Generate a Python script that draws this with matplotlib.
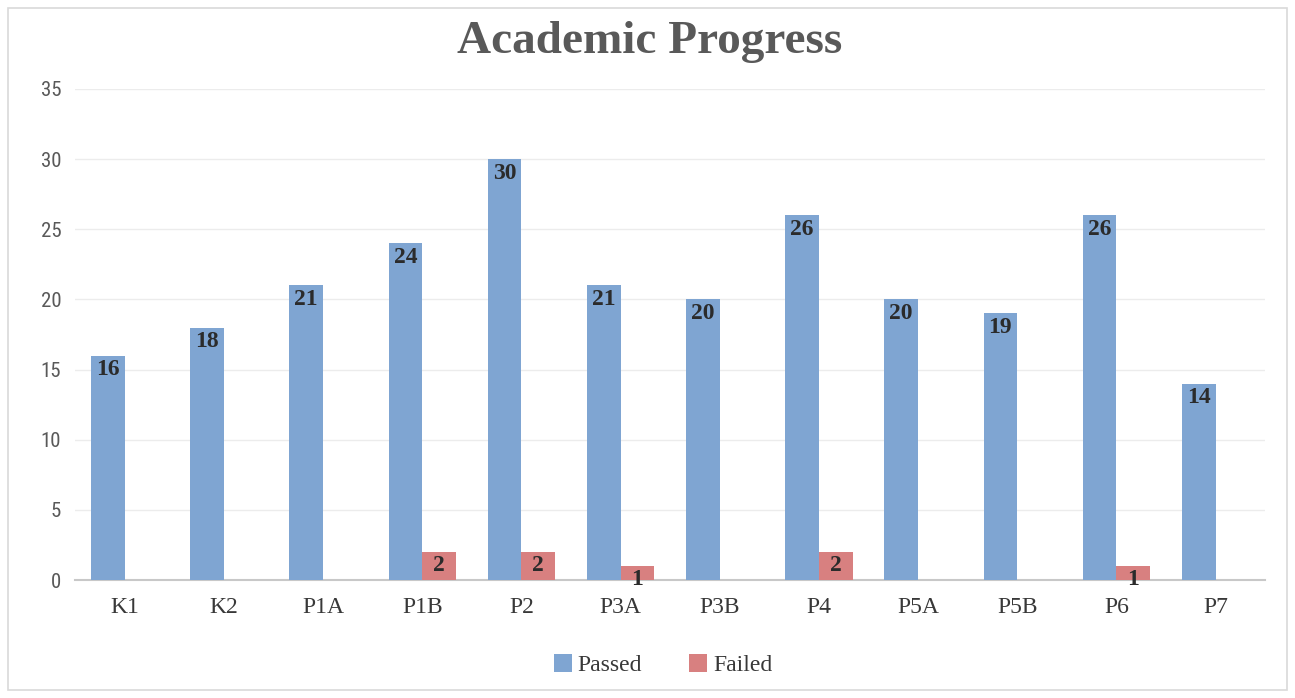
import matplotlib
matplotlib.use("Agg")
import matplotlib.pyplot as plt
import numpy as np
from matplotlib.patches import Rectangle

categories = ["K1", "K2", "P1A", "P1B", "P2", "P3A", "P3B", "P4", "P5A", "P5B", "P6", "P7"]
passed = [16, 18, 21, 24, 30, 21, 20, 26, 20, 19, 26, 14]
failed = [0, 0, 0, 2, 2, 1, 0, 2, 0, 0, 1, 0]

blue = "#7fa5d2"
red = "#d88080"
serif = ["Liberation Serif", "DejaVu Serif"]

fig = plt.figure(figsize=(12.95, 6.98), dpi=100)
ax = fig.add_axes([0.058, 0.169, 0.919, 0.7035])

x = np.arange(len(categories))
w = 0.34
b1 = ax.bar(x - w / 2, passed, w, color=blue, zorder=3)
b2 = ax.bar(x + w / 2, failed, w, color=red, zorder=3)

for rects, vals in ((b1, passed), (b2, failed)):
    for r, v in zip(rects, vals):
        if v == 0:
            continue
        ax.annotate(str(v), (r.get_x() + r.get_width() / 2, v), xytext=(0, -2.5),
                    textcoords="offset points", ha="center", va="top",
                    fontsize=17, fontweight="bold", family=serif, color="#2b2b2b", zorder=4)

ax.set_xlim(-0.5, len(categories) - 0.5)
ax.set_ylim(0, 35)
ax.set_yticks(range(0, 36, 5))
ax.grid(axis="y", color="#ececec", linewidth=1, zorder=0)
for s in ["top", "right", "left"]:
    ax.spines[s].set_visible(False)
ax.spines["bottom"].set_color("#c8c8c8")
ax.spines["bottom"].set_linewidth(1.5)
ax.tick_params(axis="both", length=0)
ax.tick_params(axis="y", labelsize=15, labelcolor="#595959", pad=10)
ax.set_xticks(x)
ax.set_xticklabels(categories, family=serif, fontsize=17, color="#383838")
ax.tick_params(axis="x", pad=12)
for lab in ax.get_yticklabels():
    lab.set_family(["Roboto Condensed", "Roboto", "DejaVu Sans"])

fig.text(0.502, 0.94, "Academic Progress", ha="center", va="center",
         family=serif, fontweight="bold", fontsize=34, color="#595959")

leg = fig.legend([b1, b2], ["Passed", "Failed"], loc="center", bbox_to_anchor=(0.512, 0.047),
                 ncol=2, frameon=False, handlelength=0.75, handleheight=0.75,
                 handletextpad=0.25, columnspacing=2.0,
                 prop={"family": serif, "size": 17})
for t in leg.get_texts():
    t.set_color("#383838")

fig.patches.append(Rectangle((0.006, 0.012), 0.988, 0.976, transform=fig.transFigure,
                             fill=False, edgecolor="#d9d9d9", linewidth=1.2))

fig.savefig("out.png", dpi=100)
